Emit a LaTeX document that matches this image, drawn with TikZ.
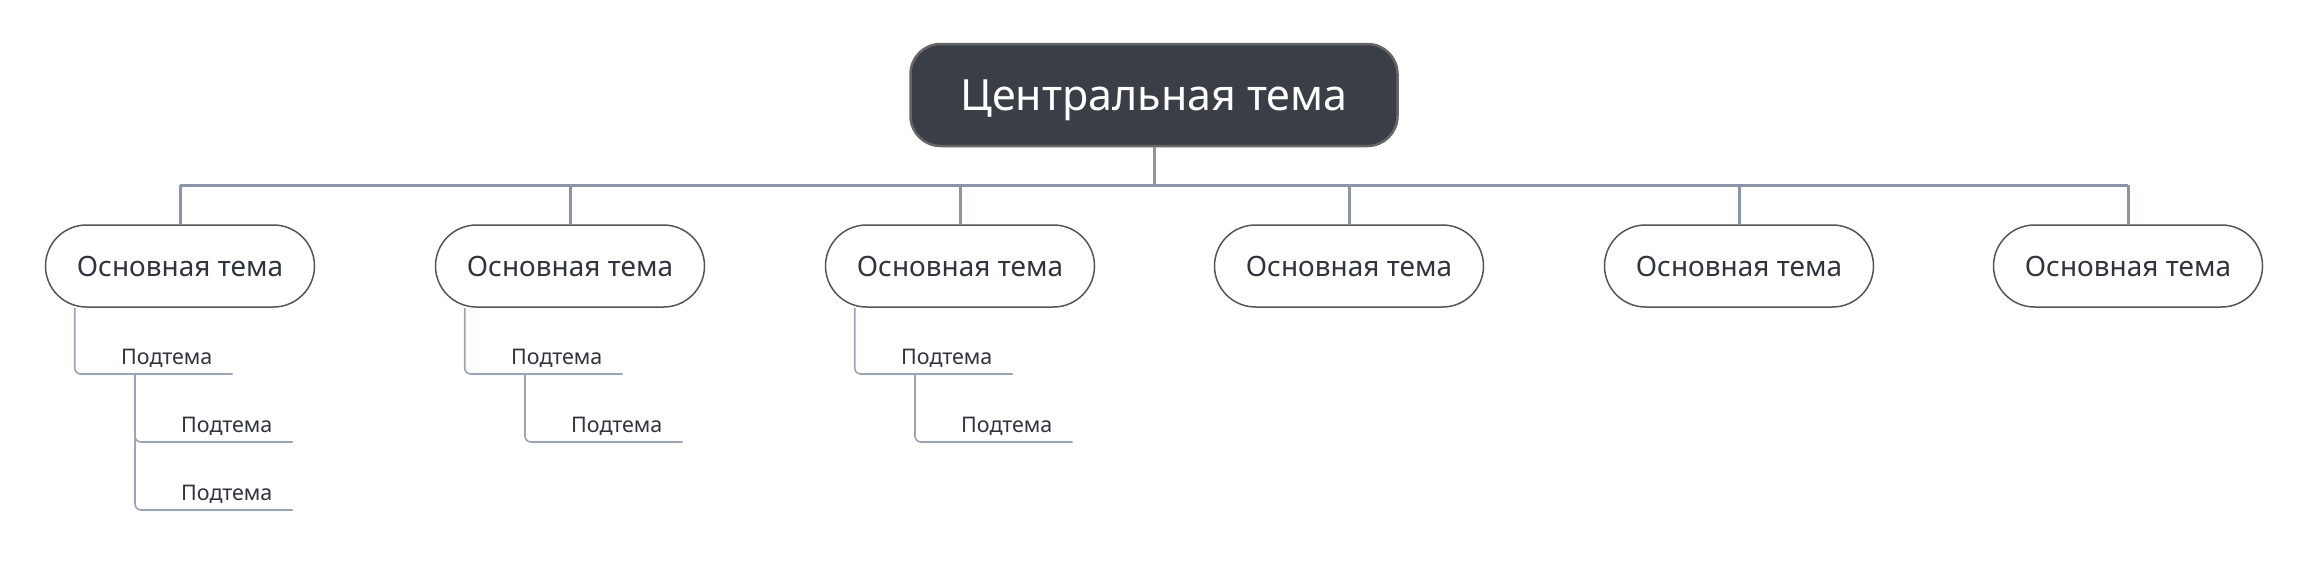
\documentclass[tikz,border=0pt]{standalone}
\usepackage{fontspec}
\setmainfont{Noto Sans}
\definecolor{cfill}{HTML}{3A3E47}
\definecolor{cborder}{HTML}{666666}
\definecolor{mborder}{HTML}{555555}
\definecolor{mtext}{HTML}{2F343D}
\definecolor{lnk}{HTML}{8C94A8}
\definecolor{slnk}{HTML}{9CA3B6}
\begin{document}
\begin{tikzpicture}[x=1pt,y=-1pt,
  central/.style={rectangle, rounded corners=30pt, minimum width=487pt, minimum height=102pt,
    fill=cfill, draw=cborder, line width=2.5pt, text=white, inner sep=0pt, text depth=0pt,
    font=\fontsize{43}{52}\selectfont},
  mainbox/.style={rectangle, rounded corners=41pt, minimum width=269pt, minimum height=82pt,
    fill=white, draw=mborder, line width=1.5pt, text=mtext, inner sep=0pt, text depth=0pt,
    font=\fontsize{28}{34}\selectfont},
  subtext/.style={inner sep=0pt, anchor=base west, text=mtext, font=\fontsize{21.5}{26}\selectfont},
  conn/.style={draw=lnk, line width=3pt},
  subline/.style={draw=slnk, line width=1.6pt, rounded corners=6pt}]
\useasboundingbox (0,0) rectangle (2308,570);
\fill[white] (0,0) rectangle (2308,570);

\node[central] (c) at (1154,95) {Центральная тема};
\foreach \i/\x in {1/180,2/570,3/960,4/1349,5/1739,6/2128}{
  \node[mainbox] (m\i) at (\x,266) {Основная тема};
}
\coordinate (bar) at (1154,185);
\draw[conn] (c.south) -- (bar);
\draw[conn] (m1.north |- bar) -- (m6.north |- bar);
\foreach \i in {1,...,6}{
  \draw[conn] (m\i.north |- bar) -- (m\i.north);
}

% subtopics of node 1
\node[subtext] (s1) at (121,364) {Подтема};
\node[subtext] (s11) at (181,432) {Подтема};
\node[subtext] (s12) at (181,500) {Подтема};
% node 2
\node[subtext] (s2) at (511,364) {Подтема};
\node[subtext] (s21) at (571,432) {Подтема};
% node 3
\node[subtext] (s3) at (901,364) {Подтема};
\node[subtext] (s31) at (961,432) {Подтема};

\foreach \m/\s in {m1/s1,m2/s2,m3/s3}{
  \draw[subline] ([xshift=30pt]\m.south west) |- ([xshift=20pt,yshift=-10pt]\s.base east);
}
\foreach \p/\s in {s1/s11,s1/s12,s2/s21,s3/s31}{
  \draw[subline] ([xshift=14pt,yshift=-10pt]\p.base west) |- ([xshift=20pt,yshift=-10pt]\s.base east);
}
\end{tikzpicture}
\end{document}
